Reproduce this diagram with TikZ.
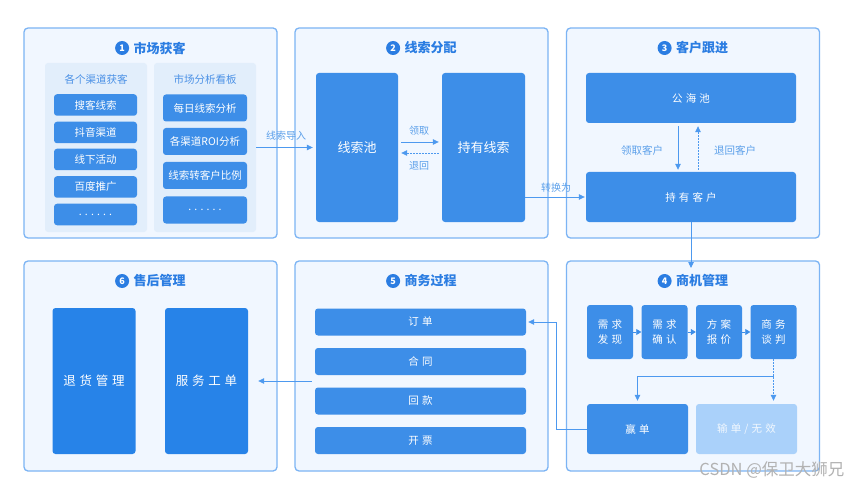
\documentclass[tikz,border=0pt]{standalone}
\usepackage{fontspec}
\setmainfont{Noto Sans CJK SC}
\newfontfamily\wide[LetterSpace=30]{Noto Sans CJK SC}
\usetikzlibrary{positioning,arrows.meta,backgrounds}
\definecolor{panelfill}{HTML}{F1F7FF}
\definecolor{panelline}{HTML}{7CB4F4}
\definecolor{subfill}{HTML}{E2EEFB}
\definecolor{boxblue}{HTML}{3D8EE8}
\definecolor{deepblue}{HTML}{2783E8}
\definecolor{paleblue}{HTML}{AAD1FA}
\definecolor{titleblue}{HTML}{2B7DE2}
\definecolor{linkblue}{HTML}{4D99EF}
\definecolor{labelblue}{HTML}{5CA0EA}
\newcommand\panelw{253pt}
\newcommand\panelh{210pt}

\begin{document}
\begin{tikzpicture}[x=1pt,y=-1pt,
    panel/.style={draw=panelline,fill=panelfill,line width=1.3pt,rounded corners=4pt,
      minimum width=\panelw,minimum height=\panelh},
    subpanel/.style={fill=subfill,rounded corners=3pt,minimum width=102pt,minimum height=169pt},
    paneltitle/.style={text=titleblue,font=\bfseries\fontsize{13}{15}\selectfont,inner sep=0pt},
    badge/.style={circle,fill=titleblue,text=white,inner sep=0pt,minimum size=14pt,
      font=\bfseries\fontsize{9}{9}\selectfont},
    subhead/.style={text=titleblue!85!white,font=\fontsize{10.5}{13}\selectfont},
    item/.style={fill=boxblue,rounded corners=3pt,text=white,inner sep=0pt,
      font=\fontsize{10.5}{13}\selectfont},
    chan/.style={item,minimum width=83pt,minimum height=21.5pt},
    stat/.style={item,minimum width=84pt,minimum height=27pt},
    tall/.style={item,minimum width=83pt,minimum height=149pt,font=\fontsize{13}{15}\selectfont},
    lane/.style={item,minimum width=210pt,minimum height=50pt,font=\wide\fontsize{10.5}{13}\selectfont},
    stage/.style={item,minimum width=46pt,minimum height=54pt,align=center,
      font=\wide\fontsize{10.5}{15}\selectfont},
    result/.style={item,minimum width=101pt,minimum height=50pt,font=\wide\fontsize{10.5}{13}\selectfont},
    stepbar/.style={item,minimum width=211pt,minimum height=27pt,font=\wide\fontsize{10.5}{13}\selectfont},
    flowlabel/.style={text=labelblue,font=\fontsize{10}{12}\selectfont,inner sep=1pt},
    flow/.style={draw=linkblue,line width=0.8pt,-{Triangle[length=6pt,width=5.5pt]},linkblue},
    backflow/.style={flow,dash pattern=on 1.6pt off 1.4pt},
    steptip/.style={draw=boxblue,fill=boxblue,line width=0.6pt,-{Triangle[length=5pt,width=6pt]}}
  ]
    \fill[white] (0,0) rectangle (850,486);
    \useasboundingbox (0,0) rectangle (850,486);

    % panels
    \node[panel] (p1) at (150.5,133) {};
    \node[panel] (p2) at (421.5,133) {};
    \node[panel] (p3) at (693,133) {};
    \node[panel] (p4) at (693,366) {};
    \node[panel] (p5) at (421.5,366) {};
    \node[panel] (p6) at (150.5,366) {};

    % titles
    \node[paneltitle] (t1) at (159.5,48) {市场获客};
    \node[badge,left=4pt of t1] (b1) {1};
    \node[paneltitle] (t2) at (430.5,48) {线索分配};
    \node[badge,left=4pt of t2] (b2) {2};
    \node[paneltitle] (t3) at (702,48) {客户跟进};
    \node[badge,left=4pt of t3] (b3) {3};
    \node[paneltitle] (t4) at (702,281) {商机管理};
    \node[badge,left=4pt of t4] (b4) {4};
    \node[paneltitle] (t5) at (430.5,281) {商务过程};
    \node[badge,left=4pt of t5] (b5) {5};
    \node[paneltitle] (t6) at (159.5,281) {售后管理};
    \node[badge,left=4pt of t6] (b6) {6};

    % 1: acquisition
    \node[subpanel] (channels) at (96,147.5) {};
    \node[subpanel] (board) at (205,147.5) {};
    \node[subhead] (channelshead) at (96,79) {各个渠道获客};
    \node[subhead] (boardhead) at (205,79) {市场分析看板};
    \node[chan] (c1) at (95.5,105) {搜客线索};
    \node[chan] (c2) at (95.5,132.5) {抖音渠道};
    \node[chan] (c3) at (95.5,159.5) {线下活动};
    \node[chan] (c4) at (95.5,187) {百度推广};
    \node[chan] (c5) at (95.5,214.5) {\wide ......};
    \node[stat] (a1) at (205,108) {每日线索分析};
    \node[stat] (a2) at (205,141.5) {各渠道ROI分析};
    \node[stat] (a3) at (205,175.5) {线索转客户比例};
    \node[stat] (a4) at (205,210) {\wide ......};

    % 2: lead assignment
    \node[tall,minimum width=82pt] (pool) at (357,147.5) {线索池};
    \node[tall] (hold) at (483.5,147.5) {持有线索};

    % 3: customer follow-up
    \node[lane] (sea) at (691,98) {公海池};
    \node[lane] (cust) at (691,197) {持有客户};

    % 4: opportunities
    \node[stage] (s1) at (610,332) {需求\\发现};
    \node[stage] (s2) at (664.5,332) {需求\\确认};
    \node[stage] (s3) at (719,332) {方案\\报价};
    \node[stage] (s4) at (773.5,332) {商务\\谈判};
    \node[result] (win) at (637.5,429) {赢单};
    \node[result,fill=paleblue,text=white!85!paleblue] (lose) at (746.5,429) {输单/无效};

    % 5: business process
    \node[stepbar] (order) at (420.5,322) {订单};
    \node[stepbar] (contract) at (420.5,361.5) {合同};
    \node[stepbar] (payment) at (420.5,401) {回款};
    \node[stepbar] (invoice) at (420.5,440.5) {开票};

    % 6: after-sales
    \node[tall,minimum height=146pt,fill=deepblue,font=\wide\fontsize{12.5}{15}\selectfont] (return) at (94,381) {退货管理};
    \node[tall,minimum height=146pt,fill=deepblue,font=\wide\fontsize{12.5}{15}\selectfont] (service) at (206.5,381) {服务工单};

    % connectors
    \draw[flow,shorten >=3pt] (board.east |- pool.west) -- (pool.west);
    \node[flowlabel] (l1) at (286,136) {线索导入};
    \draw[flow,shorten <=3pt,shorten >=3pt] ([yshift=5.5pt]pool.east) -- ([yshift=5.5pt]hold.west);
    \node[flowlabel] (l2) at (419,131) {领取};
    \draw[backflow,shorten <=3pt,shorten >=3pt] ([yshift=-5.5pt]hold.west) -- ([yshift=-5.5pt]pool.east);
    \node[flowlabel] (l3) at (419,166) {退回};
    \draw[flow,shorten >=1pt] (hold.east |- cust.west) -- (cust.west);
    \node[flowlabel] (l4) at (556,188) {转换为};

    \draw[flow,shorten <=3pt,shorten >=2pt] ([xshift=-13pt]sea.south) -- ([xshift=-13pt]cust.north);
    \node[flowlabel,font=\fontsize{10.5}{12}\selectfont] (l5) at (642,150) {领取客户};
    \draw[backflow,shorten <=2pt,shorten >=3pt] ([xshift=7pt]cust.north) -- ([xshift=7pt]sea.south);
    \node[flowlabel,font=\fontsize{10.5}{12}\selectfont] (l6) at (735,150) {退回客户};

    \coordinate (p4in) at (691,268);
    \draw[flow] (cust.south) -- (p4in);

    \draw[steptip] (s1.east) -- (s2.west);
    \draw[steptip] (s2.east) -- (s3.west);
    \draw[steptip] (s3.east) -- (s4.west);
    \coordinate (split) at ([yshift=-17pt]s4.south);
    \draw[backflow,shorten >=3pt] (s4.south) -- (s4.south |- lose.north);
    \draw[flow,shorten >=3pt] (split) -| (win.north);

    \draw[flow,shorten >=2pt] (win.west) -- ++(-30,0) |- (order.east);
    \draw[flow,shorten >=10pt] ([xshift=-3pt]order.west |- service.east) -- (service.east);

    \node[anchor=east,text=black!30,font=\fontsize{16.5}{18}\selectfont] (mark) at (848,470) {CSDN @保卫大狮兄};
  \end{tikzpicture}
\end{document}
